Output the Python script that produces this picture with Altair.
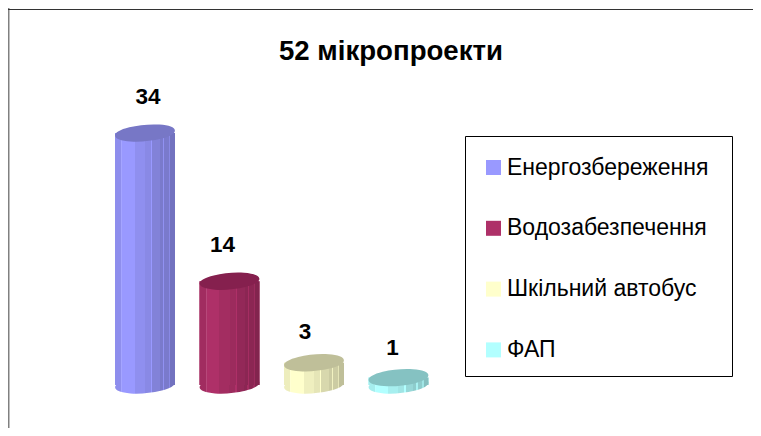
import altair as alt
import pandas as pd

categories = ["Енергозбереження", "Водозабезпечення", "Шкільний автобус", "ФАП"]
values = [34, 14, 3, 1]
labels = ["34", "14", "3", "1"]
side_colors = ["#9999FF", "#AE3068", "#FFFFCC", "#B2FFFF"]
cap_colors = ["#7777C6", "#85204E", "#BFBF99", "#85C2C2"]
label_dx = [3, -7, -9, -6]
label_dy = [-36, -36, -31, -30]

FONT = "Liberation Sans"
W, H = 745, 420
PX = 7.41
ELLIPSE = "M-0.996,0.087 A1,0.27,-5,1,1,0.996,-0.087 A1,0.27,-5,1,1,-0.996,0.087 Z"
SEGMENTS = [(0.0, 0.1, 0.93), (0.1, 0.118, 1.12), (0.118, 0.33, 1.0), (0.33, 0.5, 0.94),
            (0.5, 0.6, 0.9), (0.6, 0.618, 1.0), (0.618, 0.75, 0.85), (0.75, 0.8, 0.8),
            (0.8, 0.818, 0.95), (0.818, 0.9, 0.8), (0.9, 0.918, 0.9), (0.918, 1.0, 0.75)]


def shade(color, k):
    r, g, b = (int(color[i:i + 2], 16) for i in (1, 3, 5))
    if k <= 1:
        return "#%02x%02x%02x" % (int(r * k), int(g * k), int(b * k))
    t = k - 1
    return "#%02x%02x%02x" % tuple(int(c + (255 - c) * t) for c in (r, g, b))


def gradient(color):
    stops = []
    for start, end, k in SEGMENTS:
        c = shade(color, k)
        stops.append(alt.GradientStop(offset=start, color=c))
        stops.append(alt.GradientStop(offset=end, color=c))
    return alt.LinearGradient(gradient="linear", x1=0, x2=1, y1=0, y2=0, stops=stops)


df = pd.DataFrame({"category": categories, "value": values, "label": labels, "zero": [0, 0, 0, 0]})

y_scale = alt.Scale(domain=[(377 - H) / PX, 377 / PX], range=[H, 0], nice=False, zero=False)
x = alt.X("category:N", axis=None, sort=categories,
          scale=alt.Scale(type="point", domain=categories, range=[137, 390.5], padding=0))
y = alt.Y("value:Q", axis=None, scale=y_scale)
y0 = alt.Y("zero:Q", axis=None, scale=y_scale)

frame = alt.Chart(pd.DataFrame({"a": [0]}))
base = alt.Chart(df)
layers = [
    frame.mark_rect(fill="#FFFFFF", stroke="#000000", strokeWidth=1).encode(
        x=alt.value(457.5), x2=alt.value(724.5), y=alt.value(128.5), y2=alt.value(368.5)),
    base.mark_bar(size=60).encode(
        x=x, y=y,
        color=alt.Color(
            "category:N",
            scale=alt.Scale(domain=categories, range=side_colors),
            legend=alt.Legend(
                title=None, orient="none", legendX=452, legendY=126,
                symbolType="square", symbolSize=225, symbolStrokeWidth=0,
                labelFont=FONT, labelFontSize=23, labelColor="#000000", labelOffset=2,
                labelLimit=300, rowPadding=36.8, padding=22,
            ),
        ),
    )
]
for i, cat in enumerate(categories):
    one = base.transform_filter(alt.datum.category == cat)
    grad = gradient(side_colors[i])
    layers.append(one.mark_point(filled=True, opacity=1, shape=ELLIPSE, size=3600, fill=grad)
                  .encode(x=x, y=y0))
    layers.append(one.mark_bar(size=60, fill=grad).encode(x=x, y=y))
    layers.append(one.mark_point(filled=True, opacity=1, shape=ELLIPSE, size=3600, fill=cap_colors[i])
                  .encode(x=x, y=y))
    layers.append(one.mark_text(font=FONT, fontWeight="bold", fontSize=22.5, color="#000000",
                                dx=label_dx[i], dy=label_dy[i], baseline="middle")
                  .encode(x=x, y=y, text="label:N"))

layers.append(frame.mark_rule(color="#808080", strokeWidth=2).encode(
    x=alt.value(0.5), y=alt.value(0), y2=alt.value(H)))
layers.append(frame.mark_rule(color="#333333", strokeWidth=1).encode(
    x=alt.value(0), x2=alt.value(W), y=alt.value(1.5)))

chart = alt.layer(*layers).properties(
    width=W, height=H, padding=0, autosize=alt.AutoSizeParams(type="none"),
    title=alt.TitleParams("52 мікропроекти", font=FONT, fontSize=27.6, fontWeight="bold",
                          color="#000000", anchor="middle", frame="group", dx=10.5, dy=63),
).configure_view(stroke=None)

chart.save("out.html", embed_options={"renderer": "svg", "actions": False})
